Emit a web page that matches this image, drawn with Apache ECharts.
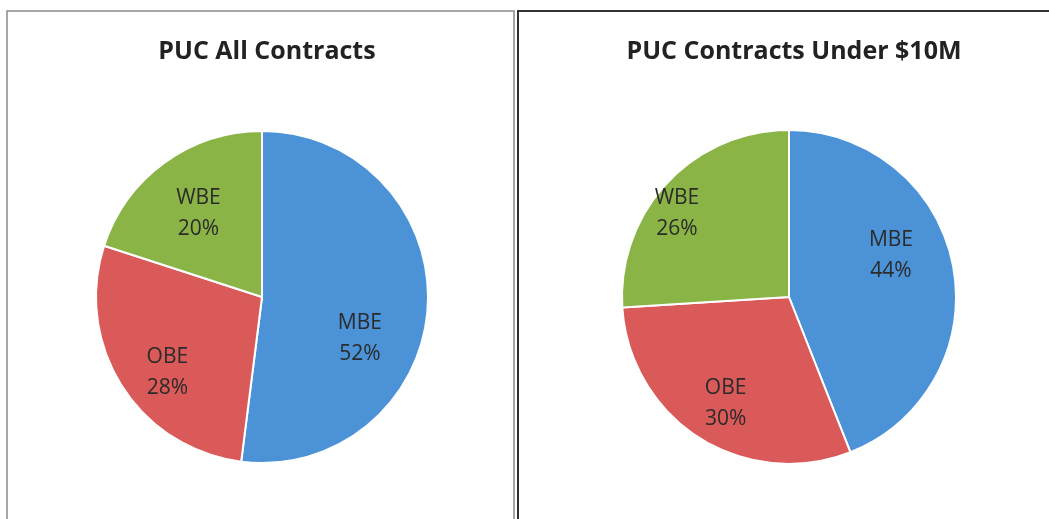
<!DOCTYPE html>
<html><head><meta charset="utf-8">
<script src="https://cdn.jsdelivr.net/npm/echarts@6/dist/echarts.min.js"></script>
<style>html,body{margin:0;padding:0;background:#fff}#c{width:1049px;height:519px}</style>
</head><body><div id="c"></div>
<script>
const categories = ['MBE', 'OBE', 'WBE'];
const allContracts = [52, 28, 20];
const under10M = [44, 30, 26];
const titles = ['PUC All Contracts', 'PUC Contracts Under $10M'];
const colors = ['#4b92d6', '#d95a58', '#8bb447'];
// label nudges (layout only)
const leftOffsets = [[12, 36], [-22, 29], [-13, -14]];
const rightOffsets = [[17, -25], [-17, 33], [-49, -24]];

function makeData(vals, offs) {
  return categories.map((n, i) => ({
    name: n, value: vals[i],
    itemStyle: { color: colors[i] },
    label: { offset: offs[i] }
  }));
}
const labelStyle = {
  show: true, position: 'inside',
  formatter: p => p.name + '\n' + p.value + '%',
  fontFamily: 'Open Sans', fontSize: 21, lineHeight: 31, color: '#2b2b2b'
};
const titleStyle = { fontFamily: 'Open Sans', fontWeight: 'bold', fontSize: 25, color: '#222' };
const chart = echarts.init(document.getElementById('c'), null, { renderer: 'canvas' });
chart.setOption({
  backgroundColor: '#fff',
  animation: false,
  title: [
    { text: titles[0], left: 262, top: 34, textAlign: 'center', textStyle: titleStyle },
    { text: titles[1], left: 789, top: 34, textAlign: 'center', textStyle: titleStyle }
  ],
  graphic: [
    { type: 'rect', shape: { x: 7, y: 11, width: 507, height: 600 },
      style: { fill: 'none', stroke: '#8a8a8a', lineWidth: 1.5 }, silent: true },
    { type: 'rect', shape: { x: 518, y: 11, width: 600, height: 600 },
      style: { fill: 'none', stroke: '#333', lineWidth: 2 }, silent: true }
  ],
  series: [
    { type: 'pie', center: [262, 297], radius: 166, startAngle: 90, clockwise: true,
      data: makeData(allContracts, leftOffsets), label: labelStyle, labelLine: { show: false },
      itemStyle: { borderColor: '#fff', borderWidth: 2 }, emphasis: { disabled: true } },
    { type: 'pie', center: [789, 297], radius: 167, startAngle: 90, clockwise: true,
      data: makeData(under10M, rightOffsets), label: labelStyle, labelLine: { show: false },
      itemStyle: { borderColor: '#fff', borderWidth: 2 }, emphasis: { disabled: true } }
  ]
});
</script></body></html>
